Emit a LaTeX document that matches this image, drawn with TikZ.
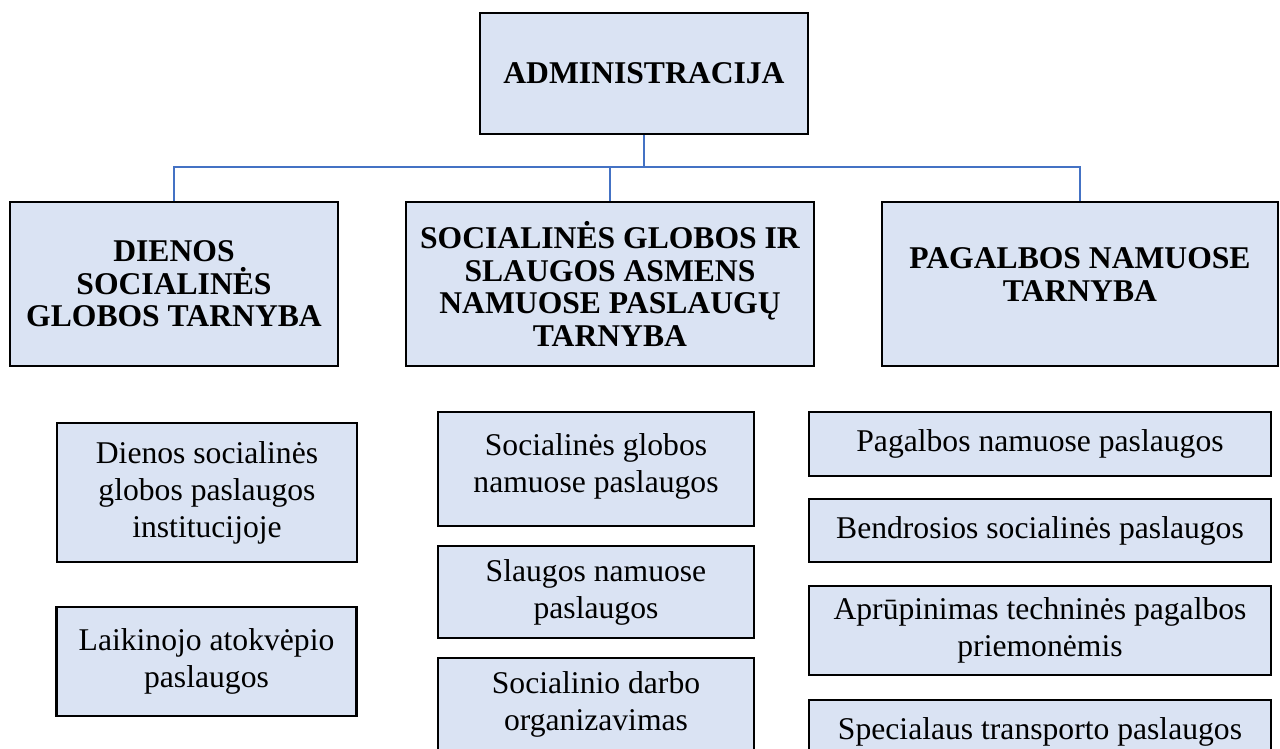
\documentclass[tikz,border=0pt]{standalone}
\usepackage{fontspec}
\setmainfont{Liberation Serif}
\usepackage{tikz}

\definecolor{boxblue}{HTML}{DAE3F3}
\definecolor{lineblue}{HTML}{4472C4}

\begin{document}
\begin{tikzpicture}
    \tikzstyle{head}=[rectangle,draw=black,line width=1.6pt,fill=boxblue,align=center,inner sep=2pt,font=\fontsize{18}{18.5}\selectfont\bfseries]
    \tikzstyle{service}=[rectangle,draw=black,line width=1.2pt,fill=boxblue,align=center,inner sep=2pt,font=\fontsize{18}{21}\selectfont]
    \tikzstyle{link}=[draw=lineblue,line width=1.4pt]
    \clip (0,0) rectangle (25.6,-14.98);
    \fill[white] (0,0) rectangle (25.6,-14.98);
    % top level
    \node (admin)[head,minimum width=6.56cm,minimum height=2.42cm] at (12.88,-1.47) {ADMINISTRACIJA};
    \node (hDay)[head,minimum width=6.56cm,minimum height=3.28cm] at (3.48,-5.68) {DIENOS\\SOCIALINĖS\\GLOBOS TARNYBA};
    \node (hCare)[head,minimum width=8.16cm,minimum height=3.28cm] at (12.2,-5.68) {SOCIALINĖS GLOBOS IR\\SLAUGOS ASMENS\\NAMUOSE PASLAUGŲ\\TARNYBA};
    \node (hHome)[head,minimum width=7.92cm,minimum height=3.28cm] at (21.6,-5.68) {PAGALBOS NAMUOSE\\TARNYBA\\[-8pt]};
    \coordinate (bus) at (0,-3.34);
    \draw[link] (admin.south) -- (admin.south |- bus);
    \draw[link] (hDay.north) -- (hDay.north |- bus) -- (hHome.north |- bus) -- (hHome.north);
    \draw[link] (hCare.north) -- (hCare.north |- bus);
    % services
    \node (dayInst)[service,minimum width=6.0cm,minimum height=2.78cm] at (4.14,-9.85) {Dienos socialinės\\globos paslaugos\\institucijoje};
    \node (dayRest)[service,minimum width=6.0cm,minimum height=2.18cm] at (4.13,-13.23) {Laikinojo atokvėpio\\paslaugos};
    \node (careSoc)[service,minimum width=6.32cm,minimum height=2.28cm] at (11.92,-9.38) {Socialinės globos\\namuose paslaugos\\[-14pt]};
    \node (careNurse)[service,minimum width=6.32cm,minimum height=1.84cm] at (11.92,-11.84) {Slaugos namuose\\paslaugos};
    \node (careWork)[service,minimum width=6.32cm,minimum height=1.84cm] at (11.92,-14.08) {Socialinio darbo\\organizavimas};
    \node (homeHelp)[service,minimum width=9.24cm,minimum height=1.28cm] at (20.8,-8.88) {Pagalbos namuose paslaugos};
    \node (homeGen)[service,minimum width=9.24cm,minimum height=1.26cm] at (20.8,-10.61) {Bendrosios socialinės paslaugos};
    \node (homeAid)[service,minimum width=9.24cm,minimum height=1.78cm] at (20.8,-12.61) {Aprūpinimas techninės pagalbos\\priemonėmis};
    \node (homeCar)[service,minimum width=9.24cm,minimum height=1.28cm] at (20.8,-14.64) {Specialaus transporto paslaugos};
\end{tikzpicture}
\end{document}
